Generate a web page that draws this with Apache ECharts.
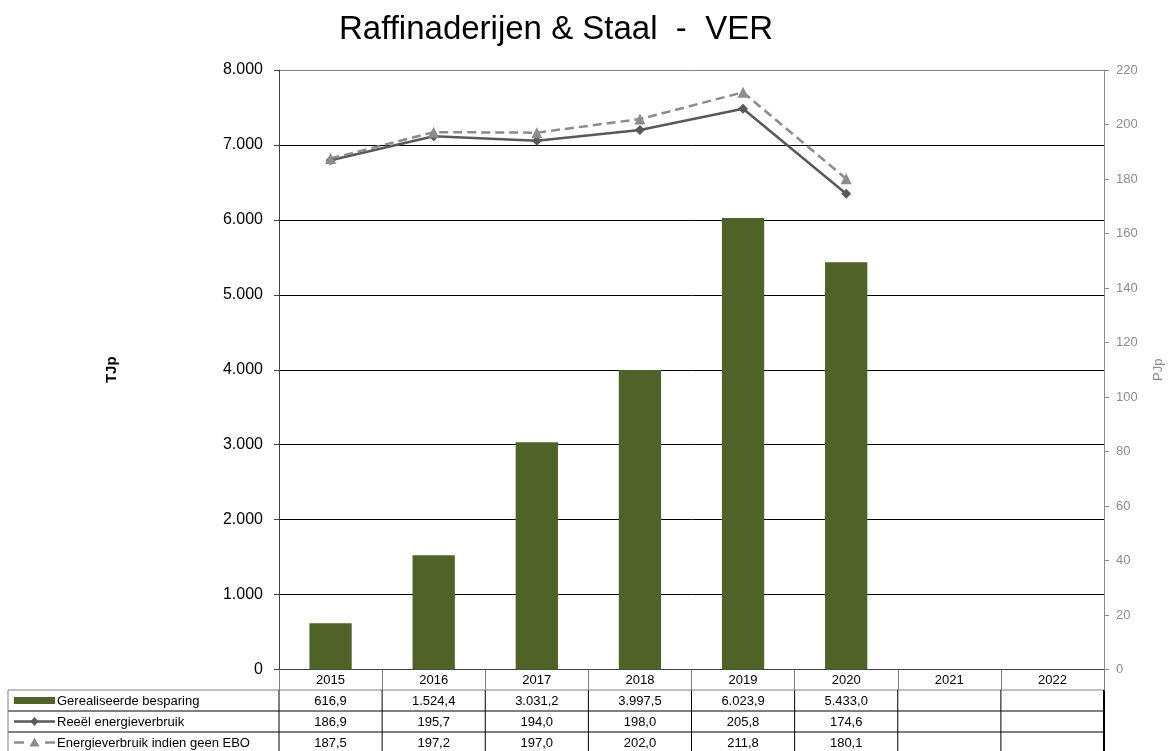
<!DOCTYPE html>
<html><head><meta charset="utf-8">
<script src="https://cdn.jsdelivr.net/npm/echarts@6/dist/echarts.min.js"></script>
<style>html,body{margin:0;padding:0;background:#fff}#c{width:1173px;height:751px}</style>
</head><body><div id="c"></div>
<script>
const categories = ['2015','2016','2017','2018','2019','2020','2021','2022'];
const besparing = [616.9, 1524.4, 3031.2, 3997.5, 6023.9, 5433.0, null, null];
const reeel = [186.9, 195.7, 194.0, 198.0, 205.8, 174.6, null, null];
const ebo = [187.5, 197.2, 197.0, 202.0, 211.8, 180.1, null, null];
const seriesNames = ['Gerealiseerde besparing', 'Reeël energieverbruik', 'Energieverbruik indien geen EBO'];
const leftTicks = [0,1000,2000,3000,4000,5000,6000,7000,8000];
const rightTicks = [0,20,40,60,80,100,120,140,160,180,200,220];

const FONT = 'Liberation Sans, Arial, sans-serif';
const GREEN = '#4f6228', DARK = '#595959', GRAY = '#8c8c8c';

function nl(v, dec) {
  if (v == null) return '';
  const parts = v.toFixed(dec).split('.');
  parts[0] = parts[0].replace(/\B(?=(\d{3})+(?!\d))/g, '.');
  return parts.length > 1 ? parts[0] + ',' + parts[1] : parts[0];
}

const chart = echarts.init(document.getElementById('c'), null, {renderer: 'canvas'});
const GL = 279, GR = 1107, GT = 70, GB = 669.5;
chart.setOption({
  animation: false,
  title: {text: 'Raffinaderijen & Staal  -  VER', left: 551, top: 8, textAlign: 'center',
    textStyle: {fontFamily: FONT, fontSize: 33, fontWeight: 'normal', color: '#000'}},
  grid: {left: GL, right: 1173 - GR, top: GT, bottom: 751 - GB},
  xAxis: {type: 'category', data: categories,
    axisLine: {lineStyle: {color: '#404040', width: 1}},
    axisTick: {show: true, inside: false, length: 21, interval: 0, lineStyle: {color: '#808080'}},
    axisLabel: {margin: 4, color: '#000', fontFamily: FONT, fontSize: 13, interval: 0}},
  yAxis: [
    {type: 'value', min: leftTicks[0], max: leftTicks[leftTicks.length-1], interval: 1000,
     name: 'TJp', nameLocation: 'middle', nameGap: 160, nameRotate: 90,
     nameTextStyle: {fontFamily: FONT, fontSize: 15, fontWeight: 'bold', color: '#000'},
     axisLine: {show: true, lineStyle: {color: '#404040'}},
     axisTick: {show: true, length: 5, lineStyle: {color: '#404040'}},
     axisLabel: {margin: 16, color: '#000', fontFamily: FONT, fontSize: 16, formatter: v => nl(v, 0)},
     splitLine: {show: true, lineStyle: {color: ['#000','#000','#000','#000','#000','#000','#000','#000','#808080'], width: 1}}},
    {type: 'value', min: rightTicks[0], max: rightTicks[rightTicks.length-1], interval: 20, position: 'right',
     name: 'PJp', nameLocation: 'middle', nameGap: 48, nameRotate: 90,
     nameTextStyle: {fontFamily: FONT, fontSize: 13, color: '#8c8c8c'},
     axisLine: {show: true, lineStyle: {color: '#8c8c8c'}},
     axisTick: {show: true, length: 5, lineStyle: {color: '#8c8c8c'}},
     axisLabel: {margin: 12, color: '#8c8c8c', fontFamily: FONT, fontSize: 13},
     splitLine: {show: false}}
  ],
  series: [
    {name: seriesNames[0], type: 'bar', data: besparing, barWidth: '41%', itemStyle: {color: GREEN}},
    {name: seriesNames[1], type: 'line', yAxisIndex: 1, data: reeel, symbol: 'diamond', symbolSize: 10,
     lineStyle: {color: DARK, width: 2.5}, itemStyle: {color: DARK}},
    {name: seriesNames[2], type: 'line', yAxisIndex: 1, data: ebo, symbol: 'triangle', symbolSize: 11,
     lineStyle: {color: GRAY, width: 2.5, type: [9, 5]}, itemStyle: {color: GRAY}}
  ]
});

// data table below the plot
const rows = [besparing.map(v => nl(v, 1)), reeel.map(v => nl(v, 1)), ebo.map(v => nl(v, 1))];
const rowTop = 690, rowH = 21, legL = 8;
const g = [];
const step = (chart.convertToPixel({xAxisIndex: 0}, 1) - chart.convertToPixel({xAxisIndex: 0}, 0));
const centers = categories.map((c, i) => chart.convertToPixel({xAxisIndex: 0}, i));
const right = centers[centers.length - 1] + step / 2;
const nRows = rows.length;
for (let r = 0; r <= nRows; r++) {
  const y = rowTop + r * rowH;
  g.push({type: 'line', shape: {x1: legL, y1: y, x2: right, y2: y}, style: {stroke: r === 0 ? '#808080' : '#000', lineWidth: 1}, silent: true});
}
g.push({type: 'line', shape: {x1: legL, y1: rowTop, x2: legL, y2: rowTop + nRows * rowH}, style: {stroke: '#808080', lineWidth: 1}});
centers.forEach((cx, i) => {
  const x = cx - step / 2;
  g.push({type: 'line', shape: {x1: x, y1: rowTop, x2: x, y2: rowTop + nRows * rowH}, style: {stroke: '#000', lineWidth: 1}});
});
g.push({type: 'line', shape: {x1: right, y1: rowTop, x2: right, y2: rowTop + nRows * rowH}, style: {stroke: '#000', lineWidth: 2}});
rows.forEach((row, r) => {
  row.forEach((t, i) => {
    if (!t) return;
    g.push({type: 'text', x: centers[i], y: rowTop + r * rowH + rowH / 2 + 1,
      style: {text: t, fill: '#000', font: '13px ' + FONT, align: 'center', verticalAlign: 'middle'}});
  });
  const cy = rowTop + r * rowH + rowH / 2;
  g.push({type: 'text', x: 57, y: cy + 1, style: {text: seriesNames[r], fill: '#000', font: '13px ' + FONT, align: 'left', verticalAlign: 'middle'}});
});
let cy = rowTop + rowH / 2;
g.push({type: 'rect', shape: {x: 14, y: cy - 3.5, width: 41, height: 7}, style: {fill: GREEN}});
cy = rowTop + rowH * 1.5;
g.push({type: 'line', shape: {x1: 14, y1: cy, x2: 55, y2: cy}, style: {stroke: DARK, lineWidth: 2.5}});
g.push({type: 'polygon', shape: {points: [[34.5, cy - 4.5], [38.5, cy], [34.5, cy + 4.5], [30.5, cy]]}, style: {fill: DARK}});
cy = rowTop + rowH * 2.5;
g.push({type: 'line', shape: {x1: 14, y1: cy, x2: 24, y2: cy}, style: {stroke: GRAY, lineWidth: 2.5}});
g.push({type: 'line', shape: {x1: 45, y1: cy, x2: 55, y2: cy}, style: {stroke: GRAY, lineWidth: 2.5}});
g.push({type: 'polygon', shape: {points: [[34.5, cy - 5], [39.5, cy + 4], [29.5, cy + 4]]}, style: {fill: GRAY}});
chart.setOption({graphic: g});
</script></body></html>
